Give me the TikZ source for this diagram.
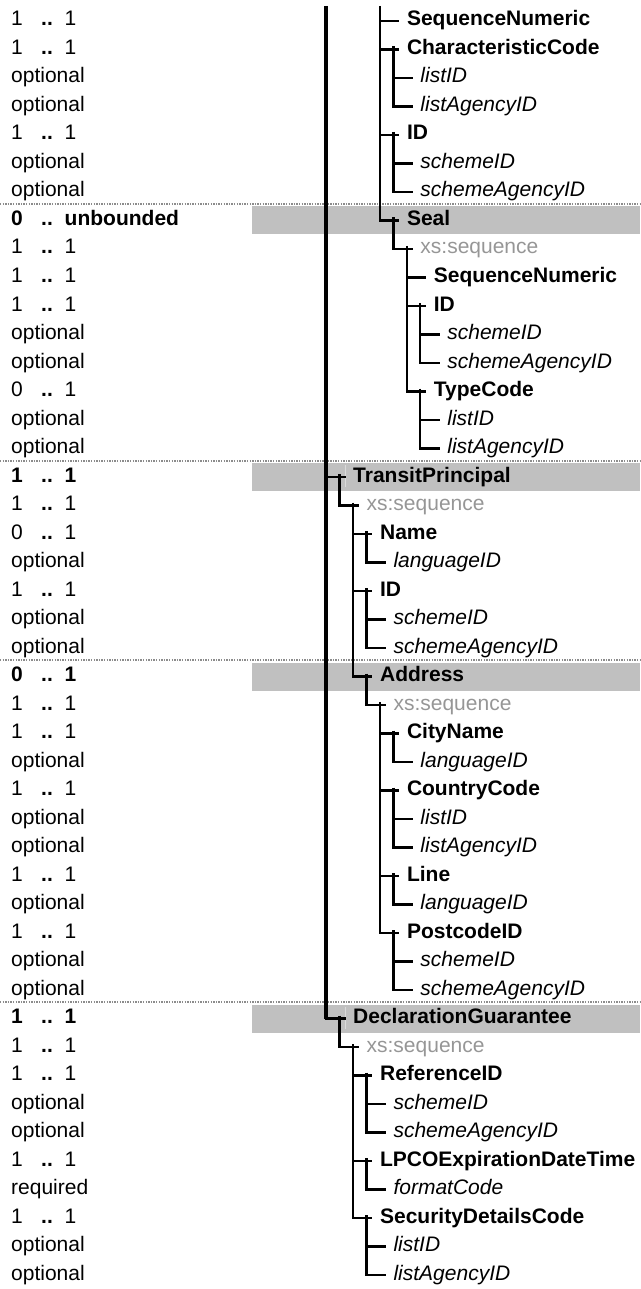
\documentclass[tikz,border=0pt]{standalone}
\usepackage{fontspec}
\setmainfont{Liberation Sans}
\definecolor{BandGray}{RGB}{192,192,192}
\definecolor{BandEdge}{RGB}{218,218,218}
\definecolor{SeqGray} {RGB}{150,150,150}
\definecolor{RuleGray}{RGB}{140,140,140}
\usetikzlibrary{positioning}
\newcommand{\tfont}{\fontsize{21}{25}\selectfont}
% row n -> y of its connector, level k -> x where a connector ends
\newcommand{\rowy}[1]{21+#1*28.5-28.5}
\newcommand{\levx}[1]{345.5+#1*13.45}
\newcommand{\occ}[2]{\makebox[30pt][l]{#1}\makebox[23.5pt][l]{\textbf{..}}#2}

\begin{document}
\begin{tikzpicture}[x=1pt,y=-1pt,font=\tfont,
    mult/.style={anchor=base west,inner sep=0pt},
    treenode/.style={anchor=west,inner xsep=7.5pt,inner ysep=0pt,
                     text height=14pt,text depth=4pt},
    elem/.style={treenode,font=\tfont\bfseries},
    attr/.style={treenode,font=\tfont\itshape},
    xsseq/.style={treenode,text=SeqGray},
    tline/.style={line width=2.5pt},
    rowband/.style={fill=BandGray},
    bandsep/.style={BandEdge,line width=1pt},
    dotrule/.style={RuleGray,line width=2pt,dash pattern=on 1.3pt off 1.3pt}]
  \useasboundingbox (0,0) rectangle (640,1289);
  % Bands and rules of the top-level rows
  \fill[rowband] (252,{\rowy{8}-14}) rectangle (640,{\rowy{8}+14});
  \fill[rowband] (252,{\rowy{17}-14}) rectangle (640,{\rowy{17}+14});
  \fill[rowband] (252,{\rowy{24}-14}) rectangle (640,{\rowy{24}+14});
  \fill[rowband] (252,{\rowy{36}-14}) rectangle (640,{\rowy{36}+14});
  \draw[bandsep] (345,{\rowy{17}-12}) -- (345,{\rowy{17}+10});
  \draw[bandsep] (345,{\rowy{36}-12}) -- (345,{\rowy{36}+10});
  \draw[dotrule] (0,{\rowy{8}-16.5}) -- (640,{\rowy{8}-16.5});
  \draw[dotrule] (0,{\rowy{17}-16.5}) -- (640,{\rowy{17}-16.5});
  \draw[dotrule] (0,{\rowy{24}-16.5}) -- (640,{\rowy{24}-16.5});
  \draw[dotrule] (0,{\rowy{36}-16.5}) -- (640,{\rowy{36}-16.5});
  % Occurrence column
  \node[mult] (m1) at (11,{\rowy{1}+5}) {\occ{1}{1}};
  \node[mult] (m2) at (11,{\rowy{2}+5}) {\occ{1}{1}};
  \node[mult] (m3) at (11,{\rowy{3}+5}) {optional};
  \node[mult] (m4) at (11,{\rowy{4}+5}) {optional};
  \node[mult] (m5) at (11,{\rowy{5}+5}) {\occ{1}{1}};
  \node[mult] (m6) at (11,{\rowy{6}+5}) {optional};
  \node[mult] (m7) at (11,{\rowy{7}+5}) {optional};
  \node[mult,font=\tfont\bfseries] (m8) at (11,{\rowy{8}+5}) {\occ{0}{unbounded}};
  \node[mult] (m9) at (11,{\rowy{9}+5}) {\occ{1}{1}};
  \node[mult] (m10) at (11,{\rowy{10}+5}) {\occ{1}{1}};
  \node[mult] (m11) at (11,{\rowy{11}+5}) {\occ{1}{1}};
  \node[mult] (m12) at (11,{\rowy{12}+5}) {optional};
  \node[mult] (m13) at (11,{\rowy{13}+5}) {optional};
  \node[mult] (m14) at (11,{\rowy{14}+5}) {\occ{0}{1}};
  \node[mult] (m15) at (11,{\rowy{15}+5}) {optional};
  \node[mult] (m16) at (11,{\rowy{16}+5}) {optional};
  \node[mult,font=\tfont\bfseries] (m17) at (11,{\rowy{17}+5}) {\occ{1}{1}};
  \node[mult] (m18) at (11,{\rowy{18}+5}) {\occ{1}{1}};
  \node[mult] (m19) at (11,{\rowy{19}+5}) {\occ{0}{1}};
  \node[mult] (m20) at (11,{\rowy{20}+5}) {optional};
  \node[mult] (m21) at (11,{\rowy{21}+5}) {\occ{1}{1}};
  \node[mult] (m22) at (11,{\rowy{22}+5}) {optional};
  \node[mult] (m23) at (11,{\rowy{23}+5}) {optional};
  \node[mult,font=\tfont\bfseries] (m24) at (11,{\rowy{24}+5}) {\occ{0}{1}};
  \node[mult] (m25) at (11,{\rowy{25}+5}) {\occ{1}{1}};
  \node[mult] (m26) at (11,{\rowy{26}+5}) {\occ{1}{1}};
  \node[mult] (m27) at (11,{\rowy{27}+5}) {optional};
  \node[mult] (m28) at (11,{\rowy{28}+5}) {\occ{1}{1}};
  \node[mult] (m29) at (11,{\rowy{29}+5}) {optional};
  \node[mult] (m30) at (11,{\rowy{30}+5}) {optional};
  \node[mult] (m31) at (11,{\rowy{31}+5}) {\occ{1}{1}};
  \node[mult] (m32) at (11,{\rowy{32}+5}) {optional};
  \node[mult] (m33) at (11,{\rowy{33}+5}) {\occ{1}{1}};
  \node[mult] (m34) at (11,{\rowy{34}+5}) {optional};
  \node[mult] (m35) at (11,{\rowy{35}+5}) {optional};
  \node[mult,font=\tfont\bfseries] (m36) at (11,{\rowy{36}+5}) {\occ{1}{1}};
  \node[mult] (m37) at (11,{\rowy{37}+5}) {\occ{1}{1}};
  \node[mult] (m38) at (11,{\rowy{38}+5}) {\occ{1}{1}};
  \node[mult] (m39) at (11,{\rowy{39}+5}) {optional};
  \node[mult] (m40) at (11,{\rowy{40}+5}) {optional};
  \node[mult] (m41) at (11,{\rowy{41}+5}) {\occ{1}{1}};
  \node[mult] (m42) at (11,{\rowy{42}+5}) {required};
  \node[mult] (m43) at (11,{\rowy{43}+5}) {\occ{1}{1}};
  \node[mult] (m44) at (11,{\rowy{44}+5}) {optional};
  \node[mult] (m45) at (11,{\rowy{45}+5}) {optional};
  % Tree: entries above Seal
  \node[elem] (seqnum1) at ({\levx{4}},{\rowy{1}}) {SequenceNumeric};
  \node[elem] (charcode2) at ({\levx{4}},{\rowy{2}}) {CharacteristicCode};
  \node[attr] (listid3) at ({\levx{5}},{\rowy{3}}) {listID};
  \node[attr] (listag4) at ({\levx{5}},{\rowy{4}}) {listAgencyID};
  \node[elem] (id5) at ({\levx{4}},{\rowy{5}}) {ID};
  \node[attr] (schid6) at ({\levx{5}},{\rowy{6}}) {schemeID};
  \node[attr] (schag7) at ({\levx{5}},{\rowy{7}}) {schemeAgencyID};
  % Seal
  \node[elem] (seal8) at ({\levx{4}},{\rowy{8}}) {Seal};
  \node[xsseq] (seq9) at ({\levx{5}},{\rowy{9}}) {xs:sequence};
  \node[elem] (seqnum10) at ({\levx{6}},{\rowy{10}}) {SequenceNumeric};
  \node[elem] (id11) at ({\levx{6}},{\rowy{11}}) {ID};
  \node[attr] (schid12) at ({\levx{7}},{\rowy{12}}) {schemeID};
  \node[attr] (schag13) at ({\levx{7}},{\rowy{13}}) {schemeAgencyID};
  \node[elem] (type14) at ({\levx{6}},{\rowy{14}}) {TypeCode};
  \node[attr] (listid15) at ({\levx{7}},{\rowy{15}}) {listID};
  \node[attr] (listag16) at ({\levx{7}},{\rowy{16}}) {listAgencyID};
  % TransitPrincipal
  \node[elem] (trprin17) at ({\levx{0}},{\rowy{17}}) {TransitPrincipal};
  \node[xsseq] (seq18) at ({\levx{1}},{\rowy{18}}) {xs:sequence};
  \node[elem] (name19) at ({\levx{2}},{\rowy{19}}) {Name};
  \node[attr] (lang20) at ({\levx{3}},{\rowy{20}}) {languageID};
  \node[elem] (id21) at ({\levx{2}},{\rowy{21}}) {ID};
  \node[attr] (schid22) at ({\levx{3}},{\rowy{22}}) {schemeID};
  \node[attr] (schag23) at ({\levx{3}},{\rowy{23}}) {schemeAgencyID};
  % Address
  \node[elem] (addr24) at ({\levx{2}},{\rowy{24}}) {Address};
  \node[xsseq] (seq25) at ({\levx{3}},{\rowy{25}}) {xs:sequence};
  \node[elem] (city26) at ({\levx{4}},{\rowy{26}}) {CityName};
  \node[attr] (lang27) at ({\levx{5}},{\rowy{27}}) {languageID};
  \node[elem] (ctry28) at ({\levx{4}},{\rowy{28}}) {CountryCode};
  \node[attr] (listid29) at ({\levx{5}},{\rowy{29}}) {listID};
  \node[attr] (listag30) at ({\levx{5}},{\rowy{30}}) {listAgencyID};
  \node[elem] (line31) at ({\levx{4}},{\rowy{31}}) {Line};
  \node[attr] (lang32) at ({\levx{5}},{\rowy{32}}) {languageID};
  \node[elem] (post33) at ({\levx{4}},{\rowy{33}}) {PostcodeID};
  \node[attr] (schid34) at ({\levx{5}},{\rowy{34}}) {schemeID};
  \node[attr] (schag35) at ({\levx{5}},{\rowy{35}}) {schemeAgencyID};
  % DeclarationGuarantee
  \node[elem] (declg36) at ({\levx{0}},{\rowy{36}}) {DeclarationGuarantee};
  \node[xsseq] (seq37) at ({\levx{1}},{\rowy{37}}) {xs:sequence};
  \node[elem] (ref38) at ({\levx{2}},{\rowy{38}}) {ReferenceID};
  \node[attr] (schid39) at ({\levx{3}},{\rowy{39}}) {schemeID};
  \node[attr] (schag40) at ({\levx{3}},{\rowy{40}}) {schemeAgencyID};
  \node[elem] (lpco41) at ({\levx{2}},{\rowy{41}}) {LPCOExpirationDateTime};
  \node[attr] (fmt42) at ({\levx{3}},{\rowy{42}}) {formatCode};
  \node[elem] (secdet43) at ({\levx{2}},{\rowy{43}}) {SecurityDetailsCode};
  \node[attr] (listid44) at ({\levx{3}},{\rowy{44}}) {listID};
  \node[attr] (listag45) at ({\levx{3}},{\rowy{45}}) {listAgencyID};
  % Tops of the child lines
  \coordinate (top0) at (326,6);
  \coordinate (top4) at ({\levx{4}-19.5},6);
  \coordinate (charcode2-c) at ([xshift=-6pt,yshift=3pt]charcode2.west);
  \coordinate (id5-c) at ([xshift=-6pt,yshift=3pt]id5.west);
  \coordinate (seal8-c) at ([xshift=-6pt,yshift=3pt]seal8.west);
  \coordinate (seq9-c) at ([xshift=-6pt,yshift=3pt]seq9.west);
  \coordinate (id11-c) at ([xshift=-6pt,yshift=3pt]id11.west);
  \coordinate (type14-c) at ([xshift=-6pt,yshift=3pt]type14.west);
  \coordinate (trprin17-c) at ([xshift=-6pt,yshift=3pt]trprin17.west);
  \coordinate (seq18-c) at ([xshift=-6pt,yshift=3pt]seq18.west);
  \coordinate (name19-c) at ([xshift=-6pt,yshift=3pt]name19.west);
  \coordinate (id21-c) at ([xshift=-6pt,yshift=3pt]id21.west);
  \coordinate (addr24-c) at ([xshift=-6pt,yshift=3pt]addr24.west);
  \coordinate (seq25-c) at ([xshift=-6pt,yshift=3pt]seq25.west);
  \coordinate (city26-c) at ([xshift=-6pt,yshift=3pt]city26.west);
  \coordinate (ctry28-c) at ([xshift=-6pt,yshift=3pt]ctry28.west);
  \coordinate (line31-c) at ([xshift=-6pt,yshift=3pt]line31.west);
  \coordinate (post33-c) at ([xshift=-6pt,yshift=3pt]post33.west);
  \coordinate (declg36-c) at ([xshift=-6pt,yshift=3pt]declg36.west);
  \coordinate (seq37-c) at ([xshift=-6pt,yshift=3pt]seq37.west);
  \coordinate (ref38-c) at ([xshift=-6pt,yshift=3pt]ref38.west);
  \coordinate (lpco41-c) at ([xshift=-6pt,yshift=3pt]lpco41.west);
  \coordinate (secdet43-c) at ([xshift=-6pt,yshift=3pt]secdet43.west);
  % Connectors
  \draw[tline,line width=3.5pt] (top0) -- (top0|-declg36.west);
  \draw[tline] (top0) |- (trprin17.west) (top0) |- (declg36.west);
  \draw[tline] (top4) |- (seqnum1.west) (top4) |- (charcode2.west)
       (top4) |- (id5.west) (top4) |- (seal8.west);
  \draw[tline] (charcode2-c) |- (listid3.west) (charcode2-c) |- (listag4.west);
  \draw[tline] (id5-c) |- (schid6.west) (id5-c) |- (schag7.west);
  \draw[tline] (seal8-c) |- (seq9.west);
  \draw[tline] (seq9-c) |- (seqnum10.west) (seq9-c) |- (id11.west)
       (seq9-c) |- (type14.west);
  \draw[tline] (id11-c) |- (schid12.west) (id11-c) |- (schag13.west);
  \draw[tline] (type14-c) |- (listid15.west) (type14-c) |- (listag16.west);
  \draw[tline] (trprin17-c) |- (seq18.west);
  \draw[tline] (seq18-c) |- (name19.west) (seq18-c) |- (id21.west)
       (seq18-c) |- (addr24.west);
  \draw[tline] (name19-c) |- (lang20.west);
  \draw[tline] (id21-c) |- (schid22.west) (id21-c) |- (schag23.west);
  \draw[tline] (addr24-c) |- (seq25.west);
  \draw[tline] (seq25-c) |- (city26.west) (seq25-c) |- (ctry28.west)
       (seq25-c) |- (line31.west) (seq25-c) |- (post33.west);
  \draw[tline] (city26-c) |- (lang27.west);
  \draw[tline] (ctry28-c) |- (listid29.west) (ctry28-c) |- (listag30.west);
  \draw[tline] (line31-c) |- (lang32.west);
  \draw[tline] (post33-c) |- (schid34.west) (post33-c) |- (schag35.west);
  \draw[tline] (declg36-c) |- (seq37.west);
  \draw[tline] (seq37-c) |- (ref38.west) (seq37-c) |- (lpco41.west)
       (seq37-c) |- (secdet43.west);
  \draw[tline] (ref38-c) |- (schid39.west) (ref38-c) |- (schag40.west);
  \draw[tline] (lpco41-c) |- (fmt42.west);
  \draw[tline] (secdet43-c) |- (listid44.west) (secdet43-c) |- (listag45.west);
\end{tikzpicture}
\end{document}
